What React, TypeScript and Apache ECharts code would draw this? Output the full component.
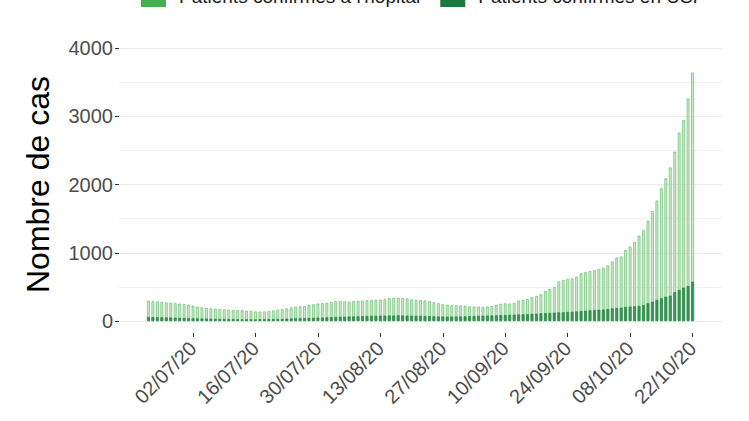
import React, { useEffect, useRef } from "react";
import * as echarts from "echarts";

const START_DATE = [2020, 5, 22]; // 22/06/2020
const DAY_COUNT = 123;

const hospital = [
  298, 292, 285, 280, 272, 268, 262, 255, 248, 240,
  225, 210, 198, 190, 185, 180, 175, 172, 165, 162,
  160, 158, 150, 145, 140, 138, 140, 145, 155, 165,
  175, 185, 200, 210, 215, 220, 235, 245, 255, 262,
  268, 280, 290, 292, 288, 285, 290, 295, 298, 305,
  308, 310, 312, 318, 335, 340, 342, 338, 330, 315,
  310, 305, 300, 290, 275, 260, 245, 238, 232, 230,
  228, 225, 215, 212, 210, 208, 212, 220, 240, 252,
  258, 255, 262, 300, 312, 320, 350, 365, 390, 440,
  470, 495, 580, 600, 615, 625, 650, 700, 715, 730,
  745, 765, 780, 815, 870, 930, 945, 1040, 1090, 1160,
  1250, 1330, 1470, 1610, 1765, 1945, 2090, 2250, 2480, 2760,
  2945, 3260, 3640,
];

const icu = [
  58, 56, 55, 53, 52, 50, 48, 46, 44, 42,
  40, 38, 36, 35, 33, 32, 30, 30, 28, 27,
  26, 25, 25, 24, 24, 25, 26, 27, 28, 30,
  32, 34, 36, 38, 40, 42, 44, 46, 48, 50,
  52, 55, 58, 60, 62, 65, 66, 68, 70, 72,
  74, 75, 76, 78, 80, 80, 82, 80, 78, 76,
  75, 74, 72, 70, 68, 66, 65, 64, 64, 65,
  66, 68, 70, 72, 74, 76, 78, 80, 82, 85,
  88, 90, 92, 95, 98, 100, 104, 108, 112, 115,
  118, 122, 125, 128, 132, 135, 140, 145, 150, 155,
  160, 165, 168, 175, 185, 190, 195, 205, 210, 215,
  220, 234, 259, 283, 308, 332, 356, 370, 420, 454,
  488, 513, 576,
];

const xTickIndices = [10, 24, 38, 52, 66, 80, 94, 108, 122];

const seriesNames = ["Patients confirmés à l'hôpital", "Patients confirmés en USI"];

function buildDates(): string[] {
  const out: string[] = [];
  for (let i = 0; i < DAY_COUNT; i++) {
    const d = new Date(START_DATE[0], START_DATE[1], START_DATE[2] + i);
    const dd = String(d.getDate()).padStart(2, "0");
    const mm = String(d.getMonth() + 1).padStart(2, "0");
    const yy = String(d.getFullYear()).slice(2);
    out.push(`${dd}/${mm}/${yy}`);
  }
  return out;
}

export default function App() {
  const ref = useRef<HTMLDivElement>(null);
  useEffect(() => {
    if (!ref.current) return;
    const chart = echarts.init(ref.current, null, { renderer: "svg" });
    const dates = buildDates();
    const font = "'Liberation Sans', Arial, sans-serif";
    chart.setOption({
      animation: false,
      backgroundColor: "#ffffff",
      textStyle: { fontFamily: font },
      legend: {
        top: -20,
        left: 136,
        itemWidth: 25,
        itemHeight: 22,
        itemGap: 20,
        icon: "rect",
        textStyle: { fontSize: 19, color: "#1a1a1a", padding: [0, 0, 0, 8], fontFamily: font },
        data: [
          { name: seriesNames[0], itemStyle: { color: "#45b150", borderWidth: 0 } },
          { name: seriesNames[1], itemStyle: { color: "#1b7a3d", borderWidth: 0 } },
        ],
      },
      grid: { left: 119, right: 27, top: 48, bottom: 100, containLabel: false },
      xAxis: {
        type: "value",
        min: -6.6,
        max: 128.6,
        offset: 12,
        axisLine: { show: false, onZero: false },
        splitLine: { show: false },
        axisTick: {
          show: true,
          length: 4,
          lineStyle: { color: "#333333" },
          customValues: xTickIndices,
        },
        axisLabel: {
          customValues: xTickIndices,
          rotate: 45,
          fontSize: 20,
          color: "#4d4d4d",
          margin: 12,
          fontFamily: font,
          formatter: (v: number) => dates[Math.round(v)] ?? "",
        },
      },
      yAxis: {
        type: "value",
        min: 0,
        max: 4000,
        interval: 1000,
        name: "Nombre de cas",
        nameLocation: "middle",
        nameGap: 65,
        nameTextStyle: { fontSize: 32, color: "#000000", fontFamily: font },
        axisLine: { show: false, onZero: false },
        axisTick: { show: true, length: 4, lineStyle: { color: "#333333" } },
        axisLabel: {
          fontSize: 20,
          color: "#4d4d4d",
          margin: 6,
          fontFamily: font,
          formatter: (v: number) => String(v),
        },
        splitLine: { show: true, lineStyle: { color: "#ebebeb", width: 1 } },
        minorTick: { show: false, splitNumber: 2 },
        minorSplitLine: { show: true, lineStyle: { color: "#f0f0f0", width: 1 } },
      },
      series: [
        {
          name: seriesNames[0],
          type: "bar",
          barWidth: 2.8,
          barGap: "-100%",
          data: hospital.map((v, i) => [i, v]),
          itemStyle: { color: "#c8eac5", borderColor: "#6cc075", borderWidth: 0.7 },
        },
        {
          name: seriesNames[1],
          type: "bar",
          barWidth: 2.8,
          barGap: "-100%",
          data: icu.map((v, i) => [i, v]),
          itemStyle: { color: "#3a9a55", borderColor: "#1f7a3e", borderWidth: 0.6 },
        },
      ],
    });
    return () => chart.dispose();
  }, []);
  return (
    <div
      ref={ref}
      style={{ position: "absolute", left: 0, top: 0, width: 749, height: 421 }}
    />
  );
}
